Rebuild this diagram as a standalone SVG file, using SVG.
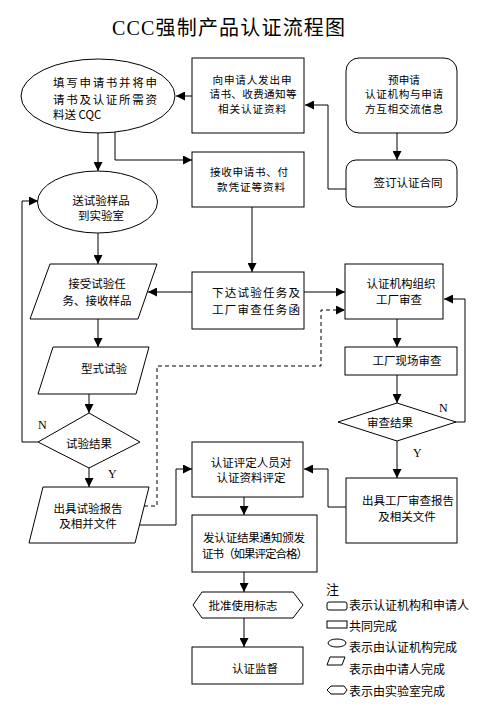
<svg xmlns="http://www.w3.org/2000/svg" width="500" height="713" viewBox="0 0 500 713">
<style>
.s{fill:#fff;stroke:#000;stroke-width:1}
.t{font-family:"Noto Sans CJK SC","Liberation Sans",sans-serif;font-size:11.5px;fill:#000;text-anchor:middle;dominant-baseline:central}
.m{font-size:10.6px}
.l{text-anchor:start}
.c{fill:none;stroke:#000;stroke-width:1}
.d{stroke-dasharray:4 3}
.yn{font-family:"Liberation Serif",serif;font-size:12px;fill:#000}
</style>
<defs>
<marker id="a" markerUnits="userSpaceOnUse" markerWidth="10" markerHeight="9" refX="9" refY="4.5" orient="auto">
<path d="M0,0 L9,4.5 L0,9 z" fill="#000"/>
</marker>
</defs>
<rect width="500" height="713" fill="#fff"/>
<text x="112" y="35" textLength="233" style="font-family:'Liberation Serif','Noto Sans CJK SC',serif;font-size:20px;fill:#000">CCC强制产品认证流程图</text>

<g id="connectors">
<path class="c" d="M192,96 H176" marker-end="url(#a)"/>
<path class="c" d="M346,189 H328 V105 H305" marker-end="url(#a)"/>
<path class="c" d="M397,133 V160" marker-end="url(#a)"/>
<path class="c" d="M98,133 V171" marker-end="url(#a)"/>
<path class="c" d="M115,132 V160 H192" marker-end="url(#a)"/>
<path class="c" d="M252,207 V272" marker-end="url(#a)"/>
<path class="c" d="M192,292 H148" marker-end="url(#a)"/>
<path class="c" d="M304,292 H345" marker-end="url(#a)"/>
<path class="c" d="M98,233 V264" marker-end="url(#a)"/>
<path class="c" d="M98,319 V347" marker-end="url(#a)"/>
<path class="c" d="M89,394 V413" marker-end="url(#a)"/>
<path class="c" d="M38,442 H22 V201 H38" marker-end="url(#a)"/>
<path class="c" d="M89,468 V487" marker-end="url(#a)"/>
<path class="c" d="M140,525 H176 V469 H192" marker-end="url(#a)"/>
<path class="c d" d="M144,506 H157 V366 H321 V310 H345" marker-end="url(#a)"/>
<path class="c" d="M397,319 V347" marker-end="url(#a)"/>
<path class="c" d="M397,375 V403" marker-end="url(#a)"/>
<path class="c" d="M456,422 H465 V299 H444" marker-end="url(#a)"/>
<path class="c" d="M397,441 V478" marker-end="url(#a)"/>
<path class="c" d="M346,507 H328 V469 H304" marker-end="url(#a)"/>
<path class="c" d="M244,497 V515" marker-end="url(#a)"/>
<path class="c" d="M244,572 V592" marker-end="url(#a)"/>
<path class="c" d="M244,618 V647" marker-end="url(#a)"/>
<text class="yn" x="38" y="429">N</text>
<text class="yn" x="108" y="478">Y</text>
<text class="yn" x="439" y="412">N</text>
<text class="yn" x="413" y="457">Y</text>
</g>

<g id="n-fill">
<ellipse class="s" cx="98" cy="96" rx="77" ry="37"/>
<text class="t l" x="53" y="82" textLength="104">填写申请书并将申</text>
<text class="t l" x="53" y="99" textLength="104">请书及认证所需资</text>
<text class="t l" x="53" y="114">料送 CQC</text>
</g>

<g id="n-send">
<rect class="s" x="192" y="58" width="112" height="75"/>
<text class="t m" x="252" y="79" textLength="79">向申请人发出申</text>
<text class="t m" x="253" y="93.5" textLength="87">请书、收费通知等</text>
<text class="t m" x="252" y="108" textLength="68">相关认证资料</text>
</g>

<g id="n-pre">
<rect class="s" x="346" y="58" width="111" height="75" rx="13"/>
<text class="t m" x="404" y="79">预申请</text>
<text class="t m" x="404" y="93.5" textLength="78">认证机构与申请</text>
<text class="t m" x="404" y="108" textLength="78">方互相交流信息</text>
</g>

<g id="n-sign">
<rect class="s" x="346" y="160" width="111" height="47" rx="10"/>
<text class="t" x="408" y="182">签订认证合同</text>
</g>

<g id="n-recv">
<rect class="s" x="192" y="152" width="112" height="55"/>
<text class="t m" x="249" y="171.5" textLength="78">接收申请书、付</text>
<text class="t m" x="251" y="186" textLength="68">款凭证等资料</text>
</g>

<g id="n-sample">
<ellipse class="s" cx="97.5" cy="202" rx="60" ry="31"/>
<text class="t" x="101" y="200">送试验样品</text>
<text class="t" x="101" y="215">到实验室</text>
</g>

<g id="n-accept">
<polygon class="s" points="50,264 157,264 138,319 30,319"/>
<text class="t" x="97" y="283">接受试验任</text>
<text class="t" x="97" y="300">务、接收样品</text>
</g>

<g id="n-issue">
<rect class="s" x="192" y="272" width="112" height="57"/>
<text class="t" x="256" y="292" textLength="88">下达试验任务及</text>
<text class="t" x="256" y="309" textLength="88">工厂审查任务函</text>
</g>

<g id="n-org">
<rect class="s" x="345" y="264" width="98" height="55"/>
<text class="t" x="401" y="283">认证机构组织</text>
<text class="t" x="399" y="299">工厂审查</text>
</g>

<g id="n-onsite">
<rect class="s" x="345" y="347" width="112" height="28"/>
<text class="t" x="407" y="360">工厂现场审查</text>
</g>

<g id="n-review">
<polygon class="s" points="397,403 456,422 397,441 338,422"/>
<text class="t" x="390" y="422">审查结果</text>
</g>

<g id="n-factreport">
<rect class="s" x="346" y="478" width="111" height="65"/>
<text class="t" x="408" y="500">出具工厂审查报告</text>
<text class="t" x="407" y="516">及相关文件</text>
</g>

<g id="n-type">
<polygon class="s" points="53,347 149,347 136,394 38,394"/>
<text class="t" x="104" y="368">型式试验</text>
</g>

<g id="n-testres">
<polygon class="s" points="89,413 140,442 89,468 38,442"/>
<text class="t" x="89" y="443">试验结果</text>
</g>

<g id="n-testreport">
<polygon class="s" points="43,487 149,487 135,543 29,543"/>
<text class="t" x="88" y="508">出具试验报告</text>
<text class="t" x="88" y="523">及相并文件</text>
</g>

<g id="n-eval">
<rect class="s" x="192" y="442" width="111" height="55"/>
<text class="t" x="251" y="462">认证评定人员对</text>
<text class="t" x="251" y="477">认证资料评定</text>
</g>

<g id="n-cert">
<rect class="s" x="192" y="515" width="125" height="57"/>
<text class="t" x="254" y="537" textLength="102">发认证结果通知颁发</text>
<text class="t" x="255" y="553" textLength="106">证书（如果评定合格）</text>
</g>

<g id="n-mark">
<polygon class="s" points="193,605 202,592 293,592 303,605 293,618 202,618"/>
<text class="t" x="243" y="605">批准使用标志</text>
</g>

<g id="n-super">
<rect class="s" x="192" y="647" width="111" height="37"/>
<text class="t" x="255" y="668">认证监督</text>
</g>

<g id="legend">
<text class="t l" x="326" y="588" style="font-size:13px">注</text>
<rect class="s" x="327" y="602" width="20" height="8" rx="2"/>
<text class="t l" x="349" y="604" style="font-size:12px">表示认证机构和申请人</text>
<rect class="s" x="327" y="621" width="20" height="7"/>
<text class="t l" x="349" y="625" style="font-size:12px">共同完成</text>
<ellipse class="s" cx="337" cy="643" rx="9" ry="4"/>
<text class="t l" x="349" y="646" style="font-size:12px">表示由认证机构完成</text>
<polygon class="s" points="330,657 345,657 342,665 327,665"/>
<text class="t l" x="349" y="668" style="font-size:12px">表示由中请人完成</text>
<polygon class="s" points="327,690 331,686 344,686 347,690 344,694 331,694"/>
<text class="t l" x="349" y="690" style="font-size:12px">表示由实验室完成</text>
</g>
</svg>
